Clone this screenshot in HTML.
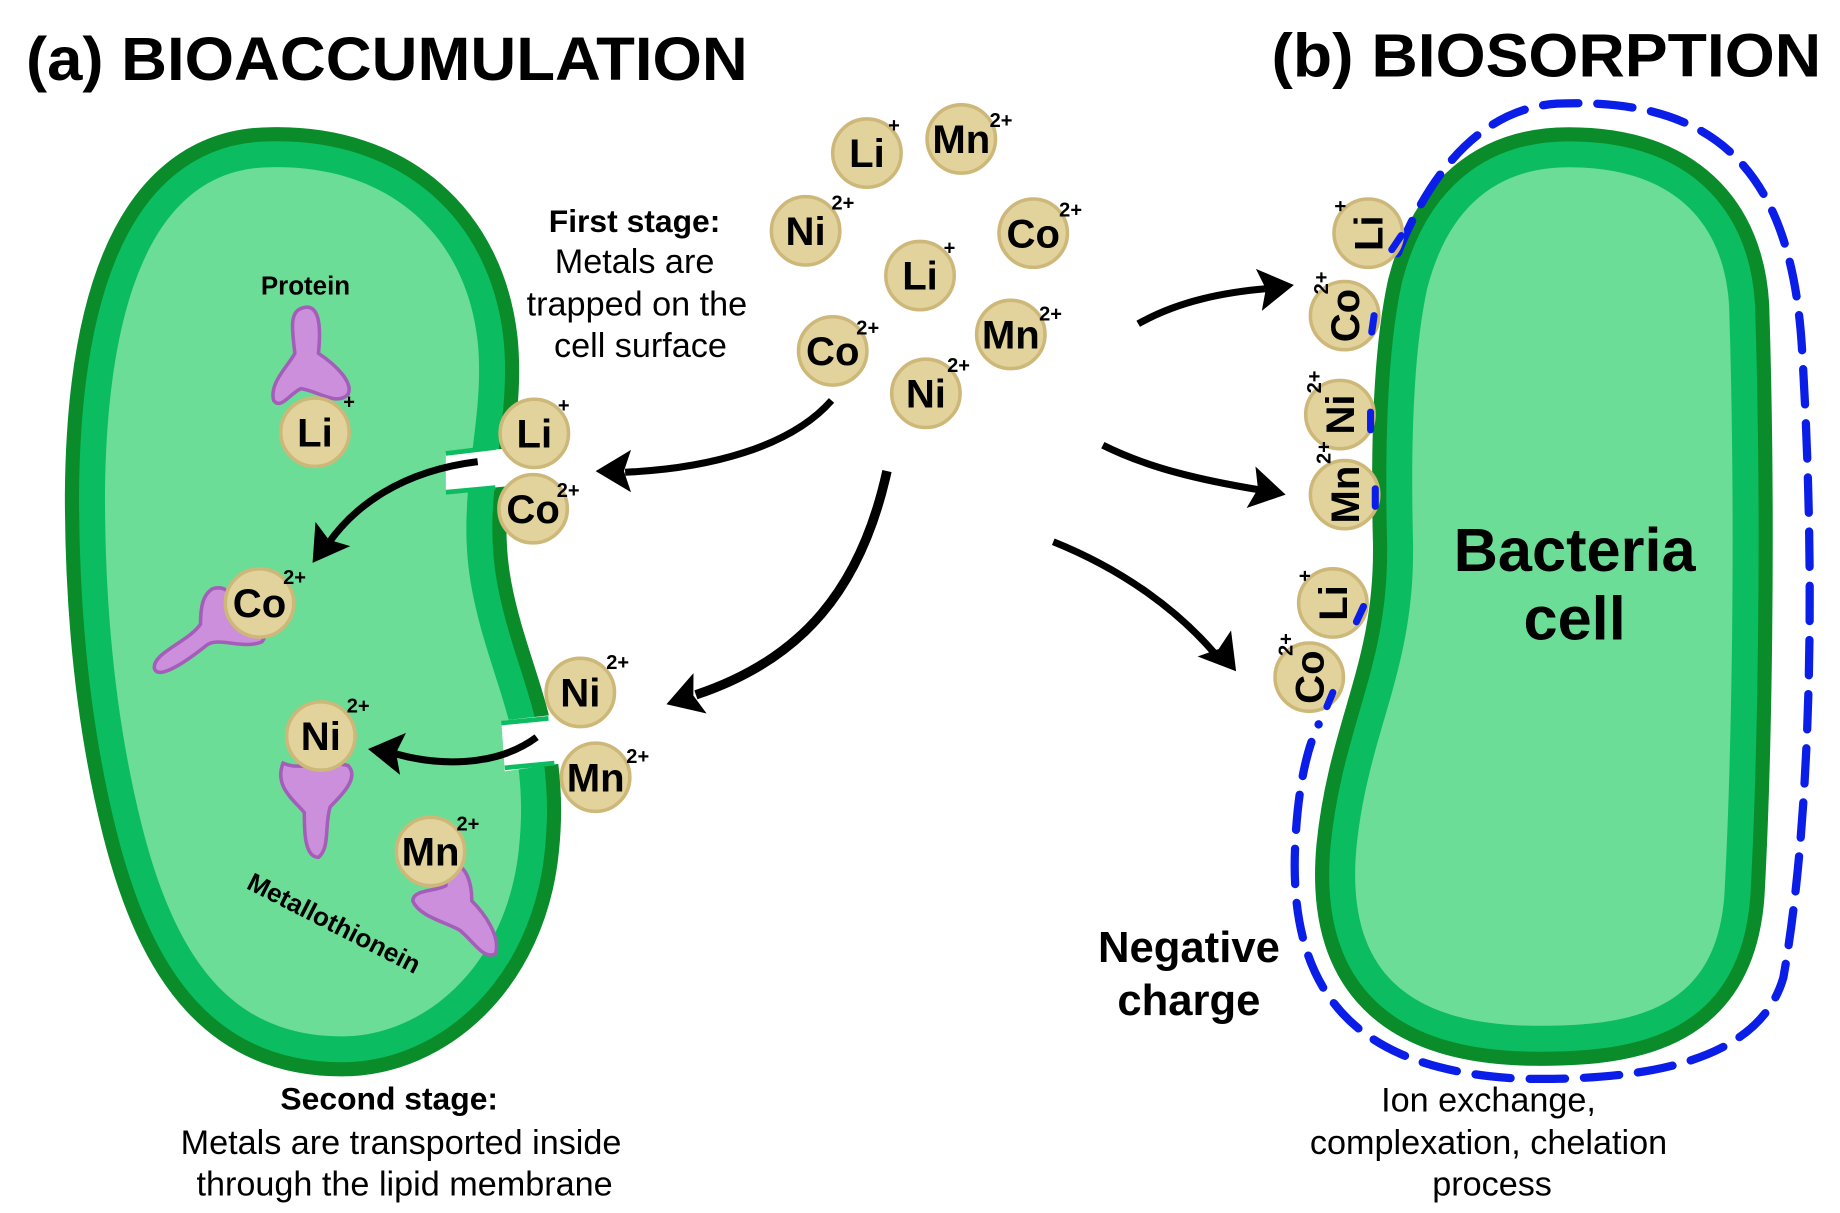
<!DOCTYPE html>
<html><head><meta charset="utf-8"><style>
html,body{margin:0;padding:0;background:#fff;}
svg{display:block;}
text{font-family:"Liberation Sans",sans-serif;}
.ion circle{fill:#e2d39c;stroke:#cdb879;stroke-width:3;}
.ion text.s{font-weight:bold;font-size:34px;text-anchor:middle;}
.ion text.c{font-weight:bold;font-size:17px;}
.prot{fill:#cc8fdc;stroke:#a45db8;stroke-width:3;}
</style></head><body>
<svg width="1840" height="1213" viewBox="0 0 1560 1030" preserveAspectRatio="none" xmlns="http://www.w3.org/2000/svg">
<defs>
<path id="lc" d="M 230,142 C 330,140 395,200 405,290 C 412,360 385,420 400,500 C 415,580 450,625 440,720 C 430,820 360,880 290,880 C 200,880 150,820 120,700 C 95,600 89,500 89,420 C 90,280 120,142 230,142 Z"/>
<path id="rc" d="M 1330,142 C 1420,142 1462,190 1466,260 C 1472,450 1468,650 1462,760 C 1455,855 1390,872 1300,871 C 1200,870 1140,830 1150,720 C 1160,620 1200,570 1198,460 C 1196,380 1198,300 1210,245 C 1228,175 1270,142 1330,142 Z"/>
<g id="arrowhead"><polygon points="0,0 -30,-18 -24,0 -30,18" fill="#000"/></g>
</defs>

<text x="22" y="68" font-size="52" font-weight="bold" textLength="612" lengthAdjust="spacingAndGlyphs">(a) BIOACCUMULATION</text>
<text x="1078" y="65" font-size="52" font-weight="bold" textLength="466" lengthAdjust="spacingAndGlyphs">(b) BIOSORPTION</text>

<use href="#lc" fill="none" stroke="#0a8c2a" stroke-width="68"/>
<use href="#lc" fill="none" stroke="#0bbd60" stroke-width="44"/>
<use href="#lc" fill="#6cdd96"/>
<path d="M 378,385 L 440,380 L 440,412 L 378,418 Z" fill="#fff"/>
<path d="M 378,385 L 420,380" stroke="#0bbd60" stroke-width="4"/>
<path d="M 378,418 L 420,414" stroke="#0bbd60" stroke-width="4"/>
<path d="M 425,612 L 478,606 L 478,648 L 428,655 Z" fill="#fff"/>
<path d="M 425,614 L 465,610" stroke="#0bbd60" stroke-width="4"/>
<path d="M 428,652 L 470,648" stroke="#0bbd60" stroke-width="4"/>

<use href="#rc" fill="none" stroke="#0a8c2a" stroke-width="68"/>
<use href="#rc" fill="none" stroke="#0bbd60" stroke-width="44"/>
<use href="#rc" fill="#6cdd96"/>
<path d="M 1185,215 C 1215,140 1260,92 1320,88 C 1460,82 1520,150 1528,300 C 1540,500 1535,700 1512,830 C 1492,900 1400,918 1290,916 C 1170,910 1092,862 1098,720 C 1100,670 1108,635 1118,615" fill="none" stroke="#0a1ee8" stroke-width="7" stroke-dasharray="30 16" stroke-linecap="round"/>
<text x="1335" y="485" font-size="52" font-weight="bold" text-anchor="middle">Bacteria</text>
<text x="1335" y="543" font-size="52" font-weight="bold" text-anchor="middle">cell</text>

<path class="prot" d="M 255,262 C 272,255 272,280 270,300 C 285,310 300,325 295,335 C 285,345 270,332 255,330 C 245,335 238,348 232,340 C 228,325 245,310 250,300 C 248,282 245,266 255,262 Z"/>
<path class="prot" d="M 180,500 C 195,495 200,512 205,520 C 220,525 230,535 222,545 C 205,552 185,540 175,548 C 160,560 135,578 131,568 C 128,555 160,545 170,530 C 170,515 172,505 180,500 Z"/>
<path class="prot" d="M 240,648 C 255,655 275,645 295,650 C 305,660 290,675 280,685 C 275,700 280,720 270,728 C 258,728 258,705 258,690 C 250,680 232,668 240,648 Z"/>
<path class="prot" d="M 380,735 C 395,730 400,750 400,765 C 410,775 425,795 420,810 C 410,815 402,800 390,790 C 378,783 355,778 350,765 C 350,755 370,757 378,752 Z"/>
<text x="259" y="250" font-size="22" font-weight="bold" text-anchor="middle">Protein</text>
<text x="208" y="754" font-size="22" font-weight="bold" transform="rotate(27 208 754)">Metallothionein</text>

<text x="538" y="197" font-size="27" font-weight="bold" text-anchor="middle">First stage:</text>
<text x="538" y="232" font-size="29" text-anchor="middle">Metals are</text>
<text x="540" y="268" font-size="29" text-anchor="middle">trapped on the</text>
<text x="543" y="303" font-size="29" text-anchor="middle">cell surface</text>
<text x="330" y="942" font-size="27" font-weight="bold" text-anchor="middle">Second stage:</text>
<text x="340" y="980" font-size="29" text-anchor="middle">Metals are transported inside</text>
<text x="343" y="1015" font-size="29" text-anchor="middle">through the lipid membrane</text>
<text x="1008" y="817" font-size="37" font-weight="bold" text-anchor="middle">Negative</text>
<text x="1008" y="862" font-size="37" font-weight="bold" text-anchor="middle">charge</text>
<text x="1262" y="944" font-size="29" text-anchor="middle">Ion exchange,</text>
<text x="1262" y="980" font-size="29" text-anchor="middle">complexation, chelation</text>
<text x="1265" y="1015" font-size="29" text-anchor="middle">process</text>

<g fill="none" stroke="#000" stroke-width="6">
<path d="M 705,340 C 670,380 600,398 530,401"/>
<path d="M 752,400 C 730,500 680,560 590,590" stroke-width="8"/>
<path d="M 405,392 C 340,400 300,430 278,462"/>
<path d="M 455,626 C 420,652 370,650 335,640"/>
<path d="M 965,275 C 1000,255 1040,248 1075,245"/>
<path d="M 935,378 C 975,398 1020,408 1068,416"/>
<path d="M 893,460 C 955,485 1000,520 1030,555"/>
</g>
<use href="#arrowhead" transform="translate(505,400) rotate(180)"/>
<use href="#arrowhead" transform="translate(565,598) rotate(162)"/>
<use href="#arrowhead" transform="translate(265,478) rotate(125)"/>
<use href="#arrowhead" transform="translate(312,636) rotate(188)"/>
<use href="#arrowhead" transform="translate(1097,242) rotate(-8)"/>
<use href="#arrowhead" transform="translate(1090,420) rotate(12)"/>
<use href="#arrowhead" transform="translate(1048,570) rotate(52)"/>

<g class="ion">
<g transform="translate(735,130)"><circle r="29"/><text class="s" y="12">Li</text><text class="c" x="18" y="-18">+</text></g>
<g transform="translate(815,118)"><circle r="29"/><text class="s" y="12">Mn</text><text class="c" x="24" y="-10">2+</text></g>
<g transform="translate(683,196)"><circle r="29"/><text class="s" y="12">Ni</text><text class="c" x="22" y="-18">2+</text></g>
<g transform="translate(876,198)"><circle r="29"/><text class="s" y="12">Co</text><text class="c" x="22" y="-14">2+</text></g>
<g transform="translate(780,234)"><circle r="29"/><text class="s" y="12">Li</text><text class="c" x="20" y="-18">+</text></g>
<g transform="translate(706,298)"><circle r="29"/><text class="s" y="12">Co</text><text class="c" x="20" y="-14">2+</text></g>
<g transform="translate(857,284)"><circle r="29"/><text class="s" y="12">Mn</text><text class="c" x="24" y="-12">2+</text></g>
<g transform="translate(785,334)"><circle r="29"/><text class="s" y="12">Ni</text><text class="c" x="18" y="-18">2+</text></g>
<g transform="translate(453,368)"><circle r="29"/><text class="s" y="12">Li</text><text class="c" x="20" y="-18">+</text></g>
<g transform="translate(452,432)"><circle r="29"/><text class="s" y="12">Co</text><text class="c" x="20" y="-10">2+</text></g>
<g transform="translate(267,367)"><circle r="29"/><text class="s" y="12">Li</text><text class="c" x="24" y="-20">+</text></g>
<g transform="translate(220,512)"><circle r="29"/><text class="s" y="12">Co</text><text class="c" x="20" y="-16">2+</text></g>
<g transform="translate(272,625)"><circle r="29"/><text class="s" y="12">Ni</text><text class="c" x="22" y="-20">2+</text></g>
<g transform="translate(365,723)"><circle r="29"/><text class="s" y="12">Mn</text><text class="c" x="22" y="-18">2+</text></g>
<g transform="translate(492,588)"><circle r="29"/><text class="s" y="12">Ni</text><text class="c" x="22" y="-20">2+</text></g>
<g transform="translate(505,660)"><circle r="29"/><text class="s" y="12">Mn</text><text class="c" x="26" y="-12">2+</text></g>
</g>
<g class="ion">
<g transform="translate(1160,198) rotate(-90)"><circle r="29"/><text class="s" y="12">Li</text><text class="c" x="18" y="-18">+</text></g>
<g transform="translate(1140,268) rotate(-90)"><circle r="29"/><text class="s" y="12">Co</text><text class="c" x="18" y="-14">2+</text></g>
<g transform="translate(1136,352) rotate(-90)"><circle r="29"/><text class="s" y="12">Ni</text><text class="c" x="18" y="-16">2+</text></g>
<g transform="translate(1140,420) rotate(-90)"><circle r="29"/><text class="s" y="12">Mn</text><text class="c" x="26" y="-12">2+</text></g>
<g transform="translate(1130,512) rotate(-90)"><circle r="29"/><text class="s" y="12">Li</text><text class="c" x="18" y="-18">+</text></g>
<g transform="translate(1110,575) rotate(-90)"><circle r="29"/><text class="s" y="12">Co</text><text class="c" x="18" y="-14">2+</text></g>
</g>
<g stroke="#0a1ee8" stroke-width="6" stroke-linecap="round">
<path d="M 1180,212 L 1188,200"/>
<path d="M 1163,282 L 1165,268"/>
<path d="M 1162,365 L 1162,350"/>
<path d="M 1166,430 L 1166,415"/>
<path d="M 1150,528 L 1156,515"/>
<path d="M 1125,600 L 1130,588"/>
</g>
</svg>
</body></html>
